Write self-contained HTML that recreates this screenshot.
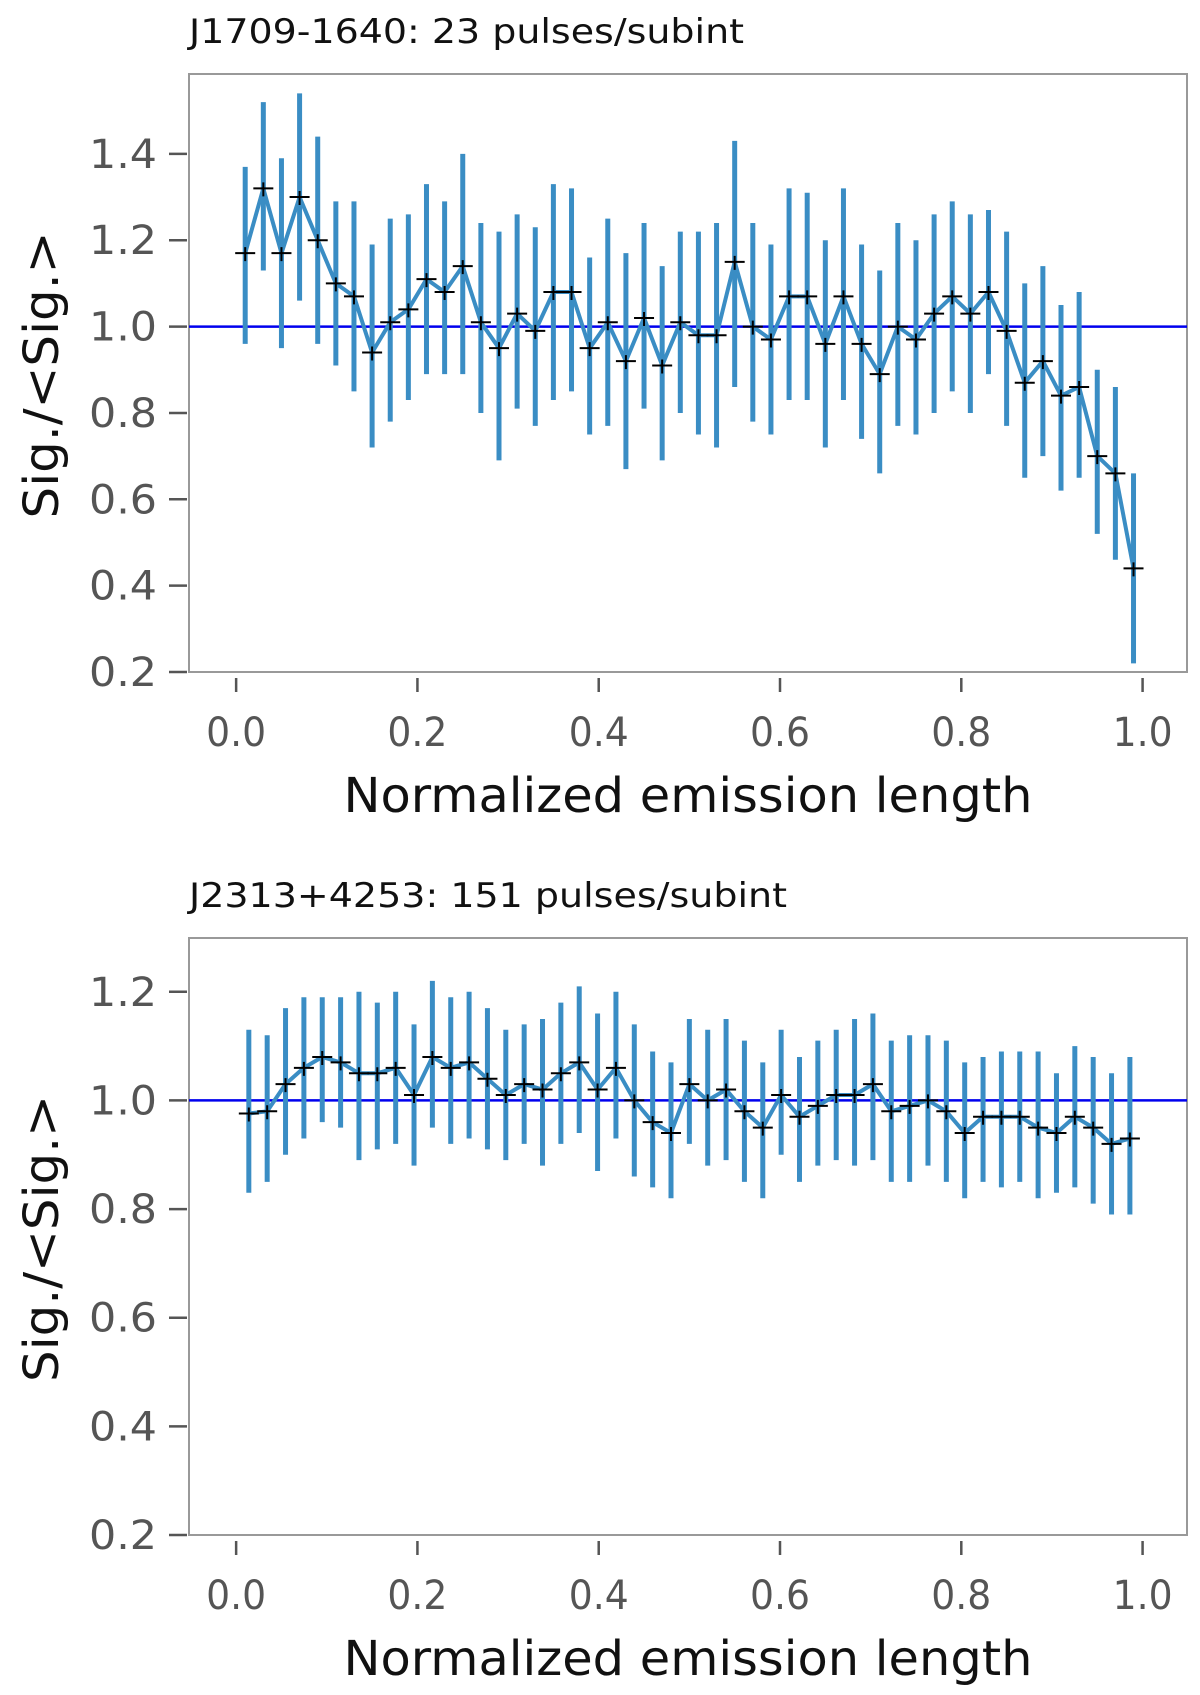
<!DOCTYPE html>
<html><head><meta charset="utf-8"><style>
html,body{margin:0;padding:0;background:#fff;}
svg{display:block;font-family:"DejaVu Sans","Liberation Sans",sans-serif;}
</style></head><body>
<svg id="fig" width="1200" height="1695" viewBox="0 0 1200 1695" xmlns="http://www.w3.org/2000/svg"></svg>
<script>
// Panel 1 data: J1709-1640
const x1 = [];
for (let i = 0; i < 50; i++) x1.push(0.01 + 0.02 * i);
const y1 = [1.17,1.32,1.17,1.30,1.20,1.10,1.07,0.94,1.01,1.04,1.11,1.08,1.14,1.01,0.95,1.03,0.99,1.08,1.08,0.95,1.01,0.92,1.02,0.91,1.01,0.98,0.98,1.15,1.00,0.97,1.07,1.07,0.96,1.07,0.96,0.89,1.00,0.97,1.03,1.07,1.03,1.08,0.99,0.87,0.92,0.84,0.86,0.70,0.66,0.44];
const hi1 = [1.37,1.52,1.39,1.54,1.44,1.29,1.29,1.19,1.25,1.26,1.33,1.29,1.40,1.24,1.22,1.26,1.23,1.33,1.32,1.16,1.25,1.17,1.24,1.14,1.22,1.22,1.24,1.43,1.24,1.19,1.32,1.31,1.20,1.32,1.19,1.13,1.24,1.20,1.26,1.29,1.26,1.27,1.22,1.10,1.14,1.05,1.08,0.90,0.86,0.66];
const lo1 = [0.96,1.13,0.95,1.06,0.96,0.91,0.85,0.72,0.78,0.83,0.89,0.89,0.89,0.80,0.69,0.81,0.77,0.83,0.85,0.75,0.77,0.67,0.81,0.69,0.80,0.75,0.72,0.86,0.78,0.75,0.83,0.83,0.72,0.83,0.74,0.66,0.77,0.75,0.80,0.85,0.80,0.89,0.77,0.65,0.70,0.62,0.65,0.52,0.46,0.22];
// Panel 2 data: J2313+4253
const x2 = [];
for (let i = 0; i < 49; i++) x2.push(0.014 + 0.02025 * i);
const y2 = [0.976,0.98,1.03,1.06,1.08,1.07,1.05,1.05,1.06,1.01,1.08,1.06,1.07,1.04,1.01,1.03,1.02,1.05,1.07,1.02,1.06,1.00,0.96,0.94,1.03,1.00,1.02,0.98,0.95,1.01,0.97,0.99,1.01,1.01,1.03,0.98,0.99,1.00,0.98,0.94,0.97,0.97,0.97,0.95,0.94,0.97,0.95,0.92,0.93];
const hi2 = [1.13,1.12,1.17,1.19,1.19,1.19,1.20,1.18,1.20,1.14,1.22,1.19,1.20,1.17,1.13,1.14,1.15,1.18,1.21,1.16,1.20,1.14,1.09,1.07,1.15,1.13,1.15,1.11,1.07,1.13,1.08,1.11,1.13,1.15,1.16,1.11,1.12,1.12,1.11,1.07,1.08,1.09,1.09,1.09,1.05,1.10,1.08,1.05,1.08];
const lo2 = [0.83,0.85,0.90,0.93,0.96,0.95,0.89,0.91,0.92,0.88,0.95,0.92,0.93,0.91,0.89,0.92,0.88,0.92,0.94,0.87,0.93,0.86,0.84,0.82,0.92,0.88,0.89,0.85,0.82,0.90,0.85,0.88,0.89,0.88,0.89,0.85,0.85,0.88,0.85,0.82,0.85,0.84,0.85,0.82,0.83,0.84,0.81,0.79,0.79];
const xTicks = [0.0,0.2,0.4,0.6,0.8,1.0];
const xTickLabels = ["0.0","0.2","0.4","0.6","0.8","1.0"];
const yTicks1 = [0.2,0.4,0.6,0.8,1.0,1.2,1.4];
const yTickLabels1 = ["0.2","0.4","0.6","0.8","1.0","1.2","1.4"];
const yTicks2 = [0.2,0.4,0.6,0.8,1.0,1.2];
const yTickLabels2 = ["0.2","0.4","0.6","0.8","1.0","1.2"];

const NS = "http://www.w3.org/2000/svg";
const svg = document.getElementById('fig');
function mk(tag, attrs, parent, text) {
  const e = document.createElementNS(NS, tag);
  for (const k in attrs) e.setAttribute(k, attrs[k]);
  if (text !== undefined) e.textContent = text;
  (parent || svg).appendChild(e);
  return e;
}

function panel(cfg) {
  const g = mk('g', {});
  
  
  const L = 189, R = 1187, T = cfg.top, B = cfg.bottom;
  const sx = v => L + (v - cfg.xmin) / (cfg.xmax - cfg.xmin) * (R - L);
  const sy = v => B - (v - cfg.ymin) / (cfg.ymax - cfg.ymin) * (B - T);
  const t = mk('text', {x: 189, y: T - 31, 'font-size': 34, fill: '#111', textLength: cfg.titleLen, lengthAdjust: 'spacingAndGlyphs'}, g, cfg.title);
  
  
  const box = mk('rect', {x: L, y: T, width: R - L, height: B - T, fill: 'none', stroke: '#999', 'stroke-width': 2}, g);
  
  
  xTicks.forEach((v, i) => {
    const tk = mk('line', {x1: sx(v), x2: sx(v), y1: B + 6, y2: B + 20, stroke: '#555', 'stroke-width': 2.5}, g);
    
    
    const lb = mk('text', {x: sx(v), y: B + 74, 'font-size': 40, fill: '#555', 'text-anchor': 'middle', textLength: 60, lengthAdjust: 'spacingAndGlyphs'}, g, xTickLabels[i]);
    
    
  });
  cfg.yTicks.forEach((v, i) => {
    const tk = mk('line', {x1: L - 20, x2: L - 2, y1: sy(v), y2: sy(v), stroke: '#555', 'stroke-width': 2.5}, g);
    
    
    const lb = mk('text', {x: 157, y: sy(v) + 14, 'font-size': 40, fill: '#555', 'text-anchor': 'end', textLength: 68, lengthAdjust: 'spacingAndGlyphs'}, g, cfg.yTickLabels[i]);
    
    
  });
  const xt = mk('text', {x: 688, y: B + 140, 'font-size': 48, fill: '#111', 'text-anchor': 'middle', textLength: 689, lengthAdjust: 'spacingAndGlyphs'}, g, 'Normalized emission length');
  
  
  const cy = (T + B) / 2 + 2;
  const yt = mk('text', {x: 0, y: 0, 'font-size': 48, fill: '#111', 'text-anchor': 'middle', textLength: 287, lengthAdjust: 'spacingAndGlyphs', transform: `translate(58,${cy}) rotate(-90)`}, g, 'Sig./<Sig.>');
  
  
  const ref = mk('line', {x1: L, x2: R, y1: sy(1.0), y2: sy(1.0), stroke: '#0000ee', 'stroke-width': 2.5}, g);
  
  
  cfg.x.forEach((v, i) => {
    const eb = mk('line', {x1: sx(v), x2: sx(v), y1: sy(cfg.hi[i]), y2: sy(cfg.lo[i]), stroke: '#3a8dc4', 'stroke-width': 5}, g);
    
    
  });
  const pts = cfg.x.map((v, i) => sx(v).toFixed(1) + ',' + sy(cfg.y[i]).toFixed(1)).join(' ');
  const pl = mk('polyline', {points: pts, fill: 'none', stroke: '#3a8dc4', 'stroke-width': 4, 'stroke-linejoin': 'round'}, g);
  
  
  cfg.x.forEach((v, i) => {
    const px = sx(v), py = sy(cfg.y[i]);
    const m = mk('path', {d: `M${px - 10},${py}H${px + 10}M${px},${py - 6}V${py + 8}`, stroke: '#000', 'stroke-width': 2}, g);
    
    
  });
}

panel({name: 'panel-j1709', title: 'J1709-1640: 23 pulses/subint', titleLen: 555, top: 74, bottom: 672,
  xmin: -0.052, xmax: 1.049, ymin: 0.2, ymax: 1.585,
  x: x1, y: y1, hi: hi1, lo: lo1, yTicks: yTicks1, yTickLabels: yTickLabels1});
panel({name: 'panel-j2313', title: 'J2313+4253: 151 pulses/subint', titleLen: 598, top: 938, bottom: 1535,
  xmin: -0.052, xmax: 1.049, ymin: 0.2, ymax: 1.299,
  x: x2, y: y2, hi: hi2, lo: lo2, yTicks: yTicks2, yTickLabels: yTickLabels2});
</script>
</body></html>
